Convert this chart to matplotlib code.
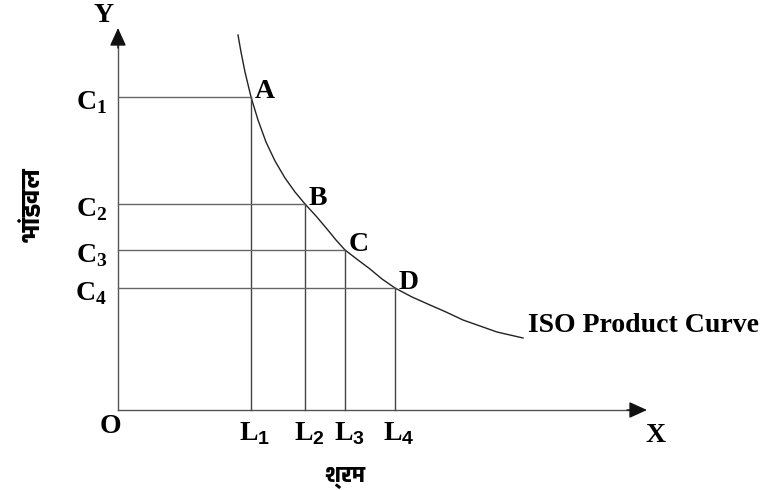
import matplotlib
matplotlib.use('Agg')
import matplotlib.pyplot as plt
from matplotlib import font_manager
from matplotlib.ft2font import FT2Font

# Iso product curve (origin at O)
curve_x = [120, 123, 127, 133, 140, 148, 157, 167, 177, 187, 198, 209, 218, 227,
           240, 252, 264, 277, 294, 312, 328, 345, 362, 379, 392, 405]
curve_y = [375, 358, 338, 313, 290, 268, 249, 232, 218, 206, 194, 181, 170, 160,
           150, 141, 131, 122, 113, 105, 98, 90, 84, 78, 75, 72]

# combinations A-D on the curve
points = ['A', 'B', 'C', 'D']
labour = [133, 187, 227, 277]
capital = [313, 206, 160, 122]
labour_labels = [r'$\mathbf{L}_{\mathsf{%d}}$' % i for i in range(1, 5)]
capital_labels = [r'$\mathbf{C}_{\mathbf{%d}}$' % i for i in range(1, 5)]

x_end = 529
y_end = 382

plt.rcParams['font.family'] = 'Liberation Serif'
plt.rcParams['font.weight'] = 'bold'
plt.rcParams['mathtext.fontset'] = 'custom'
plt.rcParams['mathtext.rm'] = 'Liberation Serif:bold'
plt.rcParams['mathtext.bf'] = 'Liberation Serif:bold'
plt.rcParams['mathtext.sf'] = 'Liberation Sans'

# look for a font with Devanagari glyphs, bold one if there is
deva_fonts = []
for f in font_manager.fontManager.ttflist:
    try:
        if 0x092D in FT2Font(f.fname).get_charmap():
            deva_fonts.append(f)
    except Exception:
        pass
deva_fonts.sort(key=lambda f: -(f.weight if isinstance(f.weight, int) else 400))
if deva_fonts:
    hindi_font = dict(fname=deva_fonts[0].fname)
else:
    hindi_font = dict(family='DejaVu Sans')

fig = plt.figure(figsize=(7.8, 4.9), dpi=100)
ax = fig.add_axes([0, 0, 1, 1])
ax.set_xlim(-118, 662)
ax.set_ylim(-80, 410)
ax.axis('off')

# axes with arrow heads
ax.plot([0, x_end - 10], [0, 0], color='#555555', lw=1)
ax.plot([0, 0], [0, y_end - 10], color='#555555', lw=1)
arrow = dict(arrowstyle='-|>,head_length=1.1,head_width=0.5', color='#111111', lw=1,
             shrinkA=0, shrinkB=0)
ax.annotate('', xy=(x_end, 0), xytext=(x_end - 20, 0), arrowprops=arrow)
ax.annotate('', xy=(0, y_end), xytext=(0, y_end - 20), arrowprops=arrow)

# curve
ax.plot(curve_x, curve_y, color='#222222', lw=1)

# guide lines and labels
for name, l, c, ll, cl in zip(points, labour, capital, labour_labels, capital_labels):
    ax.plot([0, l], [c, c], color='#666666', lw=1)
    ax.plot([l, l], [0, c], color='#444444', lw=1)
    ax.text(l + 4, c - 1, name, fontsize=20, ha='left', va='baseline')
    ax.text(l + 4, -30, ll, fontsize=20, ha='center', va='baseline')
    ax.text(-11, c - 12, cl, fontsize=20, ha='right', va='baseline')

ax.text(-8, -23, 'O', fontsize=20, ha='center', va='baseline')
ax.text(538, -32, 'X', fontsize=20, ha='center', va='baseline')
ax.text(-14, 394, 'Y', fontsize=20, ha='center', va='center')
ax.text(410, 78, 'ISO Product Curve', fontsize=20, ha='left', va='baseline')

ax.text(-87, 206, 'भांडवल', fontproperties=font_manager.FontProperties(size=18, **hindi_font),
        rotation=90, ha='center', va='center')
ax.text(227, -67, 'श्रम', fontproperties=font_manager.FontProperties(size=16, **hindi_font),
        ha='center', va='center')

fig.savefig('out.png', dpi=100)
